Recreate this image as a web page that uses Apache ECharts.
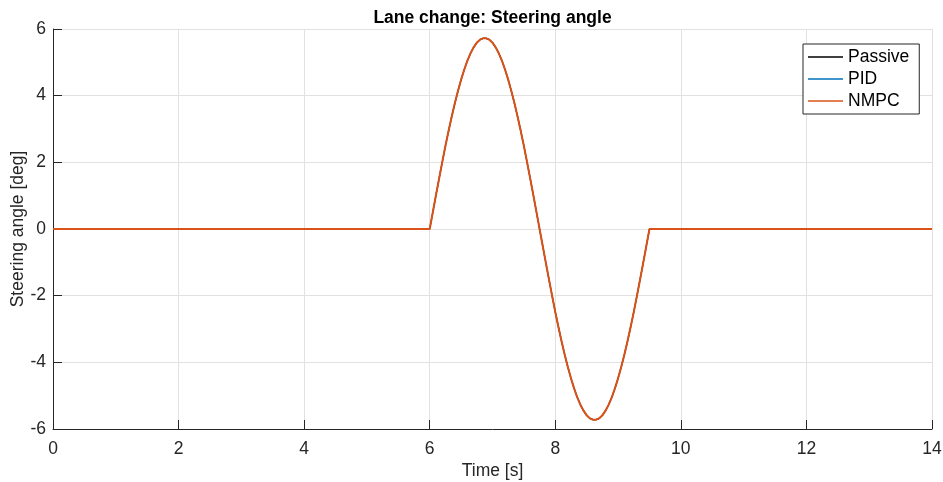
<!DOCTYPE html>
<html>
<head>
<meta charset="utf-8">
<script src="https://cdn.jsdelivr.net/npm/echarts@6/dist/echarts.min.js"></script>
<style>
  html, body { margin: 0; padding: 0; background: #ffffff; }
  #chart { width: 943px; height: 482px; }
</style>
</head>
<body>
<div id="chart"></div>
<script>
// Time samples [s]
const timeS = [
  0, 6.00, 6.05, 6.10, 6.15, 6.20, 6.25, 6.30, 6.35, 6.40, 6.45, 6.50, 6.55, 6.60, 6.65, 6.70,
  6.75, 6.80, 6.85, 6.90, 6.95, 7.00, 7.05, 7.10, 7.15, 7.20, 7.25, 7.30, 7.35, 7.40,
  7.45, 7.50, 7.55, 7.60, 7.65, 7.70, 7.75, 7.80, 7.85, 7.90, 7.95, 8.00, 8.05, 8.10,
  8.15, 8.20, 8.25, 8.30, 8.35, 8.40, 8.45, 8.50, 8.55, 8.60, 8.65, 8.70, 8.75, 8.80,
  8.85, 8.90, 8.95, 9.00, 9.05, 9.10, 9.15, 9.20, 9.25, 9.30, 9.35, 9.40, 9.45, 9.50, 14
];

// Steering angle [deg] (same manoeuvre input for every controller)
const steerDeg = [
  0, 0, 0.51, 1.02, 1.52, 2.01, 2.49, 2.94, 3.37, 3.77, 4.14, 4.48, 4.78, 5.05, 5.27, 5.45,
  5.59, 5.68, 5.72, 5.72, 5.68, 5.59, 5.45, 5.27, 5.05, 4.78, 4.48, 4.14, 3.77, 3.37,
  2.94, 2.49, 2.01, 1.52, 1.02, 0.51, 0, -0.51, -1.02, -1.52, -2.01, -2.49, -2.94, -3.37,
  -3.77, -4.14, -4.48, -4.78, -5.05, -5.27, -5.45, -5.59, -5.68, -5.72, -5.72, -5.68, -5.59, -5.45,
  -5.27, -5.05, -4.78, -4.48, -4.14, -3.77, -3.37, -2.94, -2.49, -2.01, -1.52, -1.02, -0.51, 0, 0
];

const seriesNames = ['Passive', 'PID', 'NMPC'];
const seriesColors = ['#000000', '#0072BD', '#D95319'];
const xTicks = { min: 0, max: 14, step: 2 };
const yTicks = { min: -6, max: 6, step: 2 };

const FONT = '"Liberation Sans", Arial, Helvetica, sans-serif';
const FS = 17.5;
const AXIS_COLOR = '#262626';
const GRID_COLOR = '#e1e1e1';

const pairs = timeS.map((t, i) => [t, steerDeg[i]]);

const chart = echarts.init(document.getElementById('chart'), null, { renderer: 'canvas' });

const axisCommon = {
  type: 'value',
  nameLocation: 'middle',
  nameMoveOverlap: false,
  nameTextStyle: { color: AXIS_COLOR, fontSize: FS, fontFamily: FONT },
  axisLine: { show: true, onZero: false, lineStyle: { color: AXIS_COLOR, width: 1 } },
  axisTick: { show: true, inside: true, length: 9, lineStyle: { color: AXIS_COLOR, width: 1 } },
  axisLabel: { color: AXIS_COLOR, fontSize: FS, fontFamily: FONT },
  splitLine: { show: true, lineStyle: { color: GRID_COLOR, width: 1 } }
};

chart.setOption({
  animation: false,
  backgroundColor: '#ffffff',
  grid: { left: 53, right: 11, top: 29, bottom: 53, containLabel: false, outerBoundsMode: 'none' },
  graphic: [{
    type: 'text',
    x: 492.5,
    y: 9,
    style: {
      text: 'Lane change: Steering angle',
      fill: '#000000',
      font: 'bold ' + FS + 'px ' + FONT,
      align: 'center',
      verticalAlign: 'top'
    }
  }],
  legend: {
    orient: 'vertical',
    left: 803,
    top: 44,
    padding: [3, 10, 3, 5],
    itemGap: 2,
    itemWidth: 35,
    itemHeight: 1.5,
    icon: 'rect',
    borderColor: AXIS_COLOR,
    borderWidth: 1,
    backgroundColor: '#ffffff',
    textStyle: { color: '#000000', fontSize: FS, fontFamily: FONT, lineHeight: 20, padding: [0, 0, 0, 0] },
    data: seriesNames
  },
  xAxis: Object.assign({}, axisCommon, {
    name: 'Time [s]',
    nameGap: 33,
    min: xTicks.min,
    max: xTicks.max,
    interval: xTicks.step,
    axisLabel: Object.assign({}, axisCommon.axisLabel, { margin: 11 })
  }),
  yAxis: Object.assign({}, axisCommon, {
    name: 'Steering angle [deg]',
    nameGap: 26,
    min: yTicks.min,
    max: yTicks.max,
    interval: yTicks.step,
    axisLabel: Object.assign({}, axisCommon.axisLabel, { margin: 7 })
  }),
  series: seriesNames.map((name, k) => ({
    name: name,
    type: 'line',
    data: pairs,
    showSymbol: false,
    symbol: 'none',
    smooth: false,
    color: seriesColors[k],
    lineStyle: { color: seriesColors[k], width: k === 2 ? 2 : 1.2 },
    z: 2 + k
  }))
});
</script>
</body>
</html>
